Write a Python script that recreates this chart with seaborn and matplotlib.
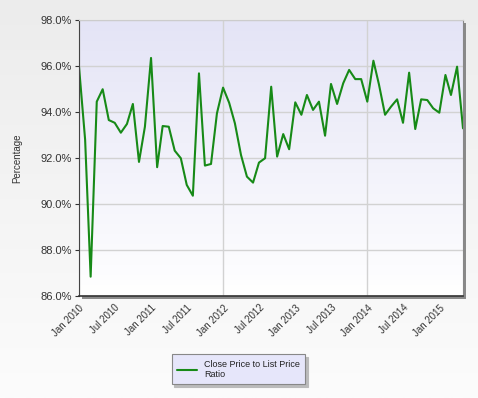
import numpy as np
import pandas as pd
import matplotlib
matplotlib.use("Agg")
import matplotlib.pyplot as plt
import matplotlib.dates as mdates
from matplotlib.colors import LinearSegmentedColormap
from matplotlib.patches import Rectangle
import seaborn as sns

# monthly close-to-list price ratio, Jan 2010 .. May 2015
months = pd.date_range("2010-01-01", "2015-05-01", freq="MS")
ratio_2010 = [95.97, 92.8, 86.84, 94.45, 94.99, 93.65, 93.53, 93.10, 93.48, 94.35, 91.83, 93.36]
ratio_2011 = [96.35, 91.6, 93.39, 93.36, 92.32, 91.99, 90.83, 90.36, 95.68, 91.67, 91.74, 93.94]
ratio_2012 = [95.06, 94.4, 93.51, 92.13, 91.19, 90.93, 91.80, 91.99, 95.10, 92.06, 93.04, 92.38]
ratio_2013 = [94.42, 93.88, 94.74, 94.09, 94.45, 92.97, 95.22, 94.35, 95.25, 95.83, 95.43, 95.43]
ratio_2014 = [94.45, 96.23, 95.20, 93.88, 94.23, 94.55, 93.53, 95.71, 93.26, 94.55, 94.52, 94.16]
ratio_2015 = [93.97, 95.61, 94.74, 95.97, 93.29]
ratio = ratio_2010 + ratio_2011 + ratio_2012 + ratio_2013 + ratio_2014 + ratio_2015
series_name = "Close Price to List Price\nRatio"

df = pd.DataFrame({"Month": months, "Ratio": ratio})

sns.set_style("white")
plt.rcParams["font.family"] = ["Liberation Sans", "DejaVu Sans"]

fig = plt.figure(figsize=(4.78, 3.98), dpi=100)

# page background gradient
bg = fig.add_axes([0, 0, 1, 1], zorder=-10)
bg.imshow(np.linspace(0, 1, 256).reshape(-1, 1), aspect="auto", extent=[0, 1, 0, 1],
          cmap=LinearSegmentedColormap.from_list("pg", ["#ececec", "#fcfcfc"]))
bg.axis("off")

left, bottom, width, height = 79 / 478, 1 - 296 / 398, 384 / 478, 276 / 398

# drop shadow behind plot area
fig.patches.append(Rectangle((left + 3 / 478, bottom - 3 / 398), width, height,
                             transform=fig.transFigure, facecolor="#8a8a8a",
                             edgecolor="none", zorder=-5))

ax = fig.add_axes([left, bottom, width, height])
ax.imshow(np.linspace(0, 1, 256).reshape(-1, 1), aspect="auto", extent=[0, 1, 0, 1],
          transform=ax.transAxes, zorder=-1,
          cmap=LinearSegmentedColormap.from_list("pa", ["#e4e4f6", "#ffffff"]))

sns.lineplot(data=df, x="Month", y="Ratio", ax=ax, color="#178a17", linewidth=1.5,
             label=series_name, legend=False)

ax.set_xlim(months[0], months[-1])
ax.set_ylim(86, 98)
ax.set_yticks(np.arange(86, 98.1, 2))
ax.yaxis.set_major_formatter(plt.FuncFormatter(lambda v, p: f"{v:.1f}%"))
ax.grid(axis="y", color="#d2d2d2", linewidth=1)

ax.xaxis.set_major_locator(mdates.MonthLocator(bymonth=[1, 7]))
ax.xaxis.set_major_formatter(mdates.DateFormatter("%b %Y"))
ax.xaxis.set_minor_locator(mdates.YearLocator(base=2))
ax.xaxis.remove_overlapping_locs = False
ax.grid(axis="x", which="minor", color="#d2d2d2", linewidth=1)
ax.tick_params(axis="x", which="major", length=0, labelsize=7, labelcolor="#333333", pad=5)
ax.tick_params(axis="x", which="minor", length=4, color="#333333", direction="out")
ax.tick_params(axis="y", length=3, color="#333333", labelsize=8, labelcolor="#333333", pad=2)
ax.yaxis.set_ticks_position("left")
for lbl in ax.get_xticklabels():
    lbl.set_rotation(45)
    lbl.set_ha("right")
    lbl.set_rotation_mode("anchor")

ax.set_xlabel("")
ax.set_ylabel("Percentage", fontsize=7, color="#333333")
ax.yaxis.set_label_coords(-57 / 384, 0.5)

ax.spines["left"].set_color("#444444")
ax.spines["bottom"].set_color("#333333")
ax.spines["top"].set_color("#cccccc")
ax.spines["right"].set_color("#888888")
ax.spines["bottom"].set_linewidth(1.2)
ax.set_axisbelow(True)

leg = fig.legend(loc="center", bbox_to_anchor=(0.499, 0.072), fontsize=6.5,
                 frameon=True, fancybox=False, shadow={"color": "#bbbbbb", "alpha": 1},
                 handlelength=2.2, borderpad=0.6, labelspacing=0.15)
leg.get_frame().set_facecolor("#e6e6fa")
leg.get_frame().set_edgecolor("#888888")
leg.get_frame().set_linewidth(0.8)
for t in leg.get_texts():
    t.set_color("#222222")

fig.savefig("out.png", dpi=100)
